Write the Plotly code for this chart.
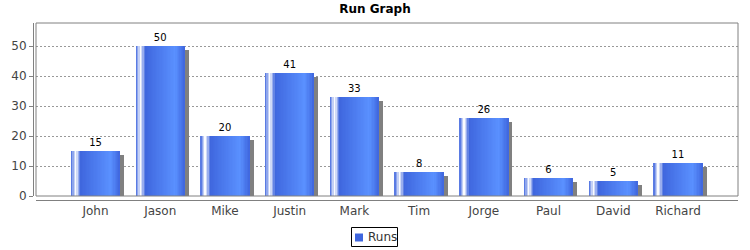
import plotly.graph_objects as go

# ---- data ----
players = ["John", "Jason", "Mike", "Justin", "Mark", "Tim", "Jorge", "Paul", "David", "Richard"]
runs = [15, 50, 20, 41, 33, 8, 26, 6, 5, 11]
y_ticks = [0, 10, 20, 30, 40, 50]
series_name = "Runs"
title_text = "Run Graph"

# ---- style ----
FONT = "DejaVu Sans"
BASE = (63, 102, 222)
BRIGHT = tuple(min(255, int(c / 0.7)) for c in BASE)
WHITE = (255, 255, 255)
BAR_W = 0.762
PX_PER_CAT = 64.72
PX_PER_UNIT = 3.0
SHADOW_DX = 4 / PX_PER_CAT
SHADOW_DY = 4 / PX_PER_UNIT
LABEL_GAP = 2.7 / PX_PER_UNIT

W_PX, H_PX = 705, 177  # plot region in px (margins l=33, r=12, t=23, b=50)


def mix(a, b, t):
    return tuple(int(round(a[i] + (b[i] - a[i]) * t)) for i in range(3))


def grad_color(t):
    # JFreeChart-like GradientBarPainter (0.10, 0.20, 0.80)
    if t < 0.10:
        c = mix(BASE, WHITE, t / 0.10)
    elif t < 0.20:
        c = mix(WHITE, BASE, (t - 0.10) / 0.10)
    elif t < 0.80:
        c = mix(BASE, BRIGHT, (t - 0.20) / 0.60)
    else:
        c = mix(BRIGHT, BASE, (t - 0.80) / 0.20)
    return "rgb(%d,%d,%d)" % c


fig = go.Figure()

# shadow
fig.add_trace(go.Bar(
    x=players, y=[v - SHADOW_DY for v in runs],
    offset=-BAR_W / 2 + SHADOW_DX, width=BAR_W,
    marker=dict(color="#808080", line=dict(width=0)),
    showlegend=False, hoverinfo="skip",
))

# gradient strips
N = 36
dw = BAR_W / N
for i in range(N):
    start = -BAR_W / 2 + i * dw
    w = min(dw * 1.6, BAR_W / 2 - start)
    fig.add_trace(go.Bar(
        x=players, y=runs, offset=start, width=w,
        marker=dict(color=grad_color((i + 0.5) / N), line=dict(width=0)),
        showlegend=False, hoverinfo="skip" if i else None,
        name=series_name,
    ))

# value labels
fig.add_trace(go.Scatter(
    x=players, y=[v + LABEL_GAP for v in runs], mode="text", text=[str(v) for v in runs],
    textposition="top center",
    textfont=dict(family=FONT, size=10, color="#000000"),
    showlegend=False, hoverinfo="skip",
))


def px_x(px):
    return (px - 33) / W_PX


def px_y(py):
    return (200 - py) / H_PX


shapes = [
    # plot border
    dict(type="rect", xref="x domain", yref="y domain", x0=0, x1=1, y0=0, y1=1,
         line=dict(color="#808080", width=1), fillcolor="rgba(0,0,0,0)", layer="above"),
    # legend box
    dict(type="rect", xref="paper", yref="paper",
         x0=px_x(351.5), x1=px_x(397.5), y0=px_y(246.5), y1=px_y(227.5),
         line=dict(color="#000000", width=1), fillcolor="white"),
    dict(type="rect", xref="paper", yref="paper",
         x0=px_x(355), x1=px_x(363), y0=px_y(241.5), y1=px_y(233.5),
         line=dict(width=0), fillcolor="rgb(%d,%d,%d)" % BASE),
]

annotations = [
    dict(text=series_name, xref="paper", yref="paper", x=px_x(366), y=px_y(237.5),
         xanchor="left", yanchor="middle", showarrow=False,
         font=dict(family=FONT, size=12, color="#333333")),
]

fig.update_layout(
    width=750, height=250,
    margin=dict(l=33, r=12, t=23, b=50, pad=0),
    paper_bgcolor="white", plot_bgcolor="white",
    barmode="overlay", bargap=0,
    showlegend=False,
    title=dict(text="<b>" + title_text + "</b>", x=0.5, xanchor="center",
               y=1 - 9 / 250, yanchor="middle", yref="container",
               font=dict(family=FONT, size=12, color="#000000")),
    xaxis=dict(
        type="category", categoryorder="array", categoryarray=players,
        domain=[3 / W_PX, 1], anchor="free", position=0,
        range=[(36 - 95.5) / PX_PER_CAT, (738 - 95.5) / PX_PER_CAT],
        showline=True, linecolor="#808080", linewidth=1,
        showgrid=False, ticks="", zeroline=False,
        tickfont=dict(family=FONT, size=12, color="#444444"),
    ),
    yaxis=dict(
        domain=[4 / H_PX, 1], anchor="free", position=0,
        range=[0, (196 - 23) / PX_PER_UNIT],
        tickvals=y_ticks, ticktext=[str(t) for t in y_ticks],
        showline=True, linecolor="#808080", linewidth=1,
        ticks="outside", ticklen=4, tickcolor="#808080",
        showgrid=True, gridcolor="#999999", griddash="2px,2px", gridwidth=1,
        zeroline=False,
        tickfont=dict(family=FONT, size=12, color="#444444"),
    ),
    shapes=shapes, annotations=annotations,
)

fig.write_html("out.html")
